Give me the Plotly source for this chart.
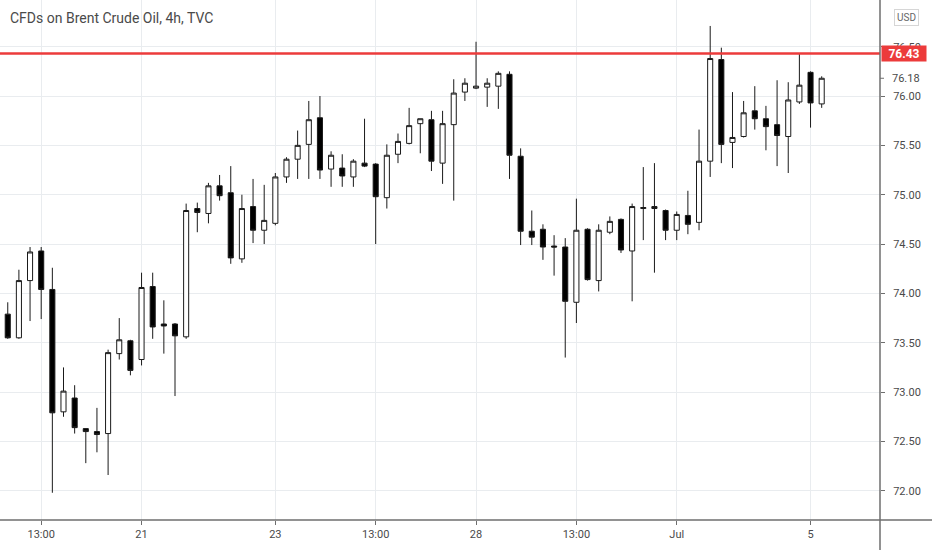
import plotly.graph_objects as go

# 4h bars, index order
bar_idx = list(range(74))
opens = [73.79, 73.55, 74.13, 74.43, 74.04, 72.80, 72.94, 72.63, 72.60, 72.58,
         73.39, 73.52, 73.33, 74.07, 73.69, 73.69, 73.56, 74.86, 74.81, 75.09,
         75.02, 74.35, 74.88, 74.64, 74.71, 75.18, 75.36, 75.51, 75.78, 75.26,
         75.27, 75.18, 75.32, 75.31, 74.97, 75.41, 75.52, 75.72, 75.76, 75.32,
         75.71, 76.04, 76.08, 76.09, 76.10, 76.22, 75.39, 74.63, 74.65, 74.48,
         74.47, 73.91, 74.65, 74.13, 74.62, 74.75, 74.43, 74.86, 74.88, 74.84,
         74.64, 74.79, 74.72, 75.34, 76.37, 75.53, 75.59, 75.85, 75.77, 75.71,
         75.59, 75.94, 76.24, 75.92]
highs = [73.91, 74.24, 74.47, 74.47, 74.26, 73.25, 73.07, 72.63, 72.84, 73.43,
         73.75, 73.53, 74.21, 74.21, 73.93, 73.70, 74.91, 74.92, 75.12, 75.20,
         75.29, 75.00, 75.16, 75.10, 75.22, 75.38, 75.65, 75.95, 76.00, 75.44,
         75.41, 75.36, 75.77, 75.32, 75.51, 75.62, 75.88, 75.77, 75.85, 75.85,
         76.17, 76.18, 76.55, 76.18, 76.25, 76.25, 75.47, 74.84, 74.70, 74.59,
         74.56, 74.96, 74.66, 74.70, 74.78, 74.76, 74.91, 75.28, 75.32, 74.85,
         74.83, 75.04, 75.66, 76.71, 76.49, 76.04, 75.95, 76.10, 75.90, 76.16,
         76.14, 76.43, 76.25, 76.20]
lows = [73.54, 73.54, 73.72, 73.74, 71.98, 72.75, 72.58, 72.28, 72.39, 72.16,
        73.33, 73.17, 73.27, 73.54, 73.39, 72.96, 73.54, 74.62, 74.71, 74.94,
        74.30, 74.31, 74.51, 74.50, 74.69, 75.12, 75.16, 75.16, 75.16, 75.08,
        75.08, 75.08, 75.28, 74.50, 74.86, 75.32, 75.51, 75.42, 75.24, 75.11,
        74.94, 75.95, 76.07, 75.89, 75.87, 75.16, 74.49, 74.49, 74.34, 74.18,
        73.35, 73.70, 74.13, 74.02, 74.60, 74.41, 73.92, 74.54, 74.21, 74.54,
        74.54, 74.60, 74.64, 75.18, 75.32, 75.27, 75.58, 75.66, 75.45, 75.29,
        75.22, 75.92, 75.68, 75.88]
closes = [73.55, 74.13, 74.42, 74.04, 72.79, 73.01, 72.64, 72.60, 72.57, 73.40,
          73.53, 73.22, 74.06, 73.66, 73.67, 73.57, 74.84, 74.82, 75.09, 74.99,
          74.36, 74.86, 74.64, 74.74, 75.18, 75.36, 75.50, 75.76, 75.25, 75.40,
          75.19, 75.34, 75.29, 74.98, 75.40, 75.54, 75.70, 75.77, 75.34, 75.72,
          76.03, 76.13, 76.10, 76.13, 76.23, 75.40, 74.63, 74.57, 74.47, 74.47,
          73.92, 74.64, 74.14, 74.64, 74.73, 74.44, 74.88, 74.87, 74.86, 74.64,
          74.80, 74.70, 75.34, 76.38, 75.51, 75.58, 75.83, 75.77, 75.69, 75.60,
          75.96, 76.11, 75.93, 76.18]

date_tick_idx = [3, 12, 24, 33, 42, 51, 60, 72]
date_tick_text = ["13:00", "21", "23", "13:00", "28", "13:00", "Jul", "5"]
price_ticks = [72.0, 72.5, 73.0, 73.5, 74.0, 74.5, 75.0, 75.5, 76.0, 76.5]

resistance = 76.43
last_price = closes[-1]

red = "#ec3b3b"
txt = "#4a4a4a"
axis_col = "#6e6e6e"

fig = go.Figure()
fig.add_trace(go.Candlestick(
    x=bar_idx, open=opens, high=highs, low=lows, close=closes,
    increasing=dict(line=dict(color="#1a1a1a", width=1), fillcolor="#ffffff"),
    decreasing=dict(line=dict(color="#1a1a1a", width=1), fillcolor="#000000"),
    whiskerwidth=0,
    showlegend=False,
))

# horizontal resistance level
fig.add_shape(type="line", xref="paper", x0=0, x1=1, yref="y",
              y0=resistance, y1=resistance, line=dict(color=red, width=2.5))

# axis separators (extend into margins like the tv layout)
fig.add_shape(type="line", xref="paper", yref="paper", x0=0, x1=1 + 52 / 880,
              y0=0, y1=0, line=dict(color=axis_col, width=1.5))
fig.add_shape(type="line", xref="paper", yref="paper", x0=1, x1=1,
              y0=-30 / 520, y1=1, line=dict(color=axis_col, width=1.5))
# small tick for the last price label
fig.add_shape(type="line", xref="paper", yref="y", x0=1, x1=1 + 4 / 880,
              y0=last_price, y1=last_price, line=dict(color=axis_col, width=1))

fig.add_annotation(text="CFDs on Brent Crude Oil, 4h, TVC", xref="paper", yref="paper",
                   x=8 / 880, y=1 - 18 / 520, xanchor="left", yanchor="middle",
                   showarrow=False, font=dict(size=14, color=txt))
fig.add_annotation(text="<b>%.2f</b>" % resistance, xref="paper", yref="y",
                   x=1, y=resistance, xanchor="left", yanchor="middle", xshift=1,
                   showarrow=False, bgcolor=red, width=42, height=13, borderpad=1,
                   font=dict(size=12, color="#ffffff"))
fig.add_annotation(text="%.2f" % last_price, xref="paper", yref="y",
                   x=1, y=last_price, xanchor="left", yanchor="middle", xshift=10,
                   showarrow=False, font=dict(size=11, color=txt))
fig.add_annotation(text="USD", xref="paper", yref="paper",
                   x=906 / 880, y=1 - 17.5 / 520, xanchor="center", yanchor="middle",
                   showarrow=False, bgcolor="#ffffff", bordercolor="#d6d6d6",
                   borderwidth=1, borderpad=2, font=dict(size=10, color="#666666"))

fig.update_layout(
    width=932, height=550,
    margin=dict(l=0, r=52, t=0, b=30),
    paper_bgcolor="#ffffff", plot_bgcolor="#ffffff",
    font=dict(family="Roboto, Liberation Sans, sans-serif", color=txt),
    boxgap=0.35,
    hovermode=False,
)
fig.update_xaxes(
    range=[-0.695, 78.23], rangeslider=dict(visible=False),
    tickvals=date_tick_idx, ticktext=date_tick_text,
    showgrid=True, gridcolor="#e9ecef", gridwidth=1, zeroline=False,
    ticks="outside", ticklen=4, tickcolor=axis_col,
    tickfont=dict(size=11, color=txt), showline=False,
)
fig.update_yaxes(
    side="right", range=[71.704, 76.973],
    tickvals=price_ticks, tickformat=".2f",
    showgrid=True, gridcolor="#e9ecef", gridwidth=1, zeroline=False,
    ticks="outside", ticklen=4, tickcolor=axis_col, ticklabelstandoff=6,
    tickfont=dict(size=11, color=txt), showline=False,
)

# page body has a default 8px margin; drop it so the chart fills the window
fig.write_html("out.html", config={"displayModeBar": False},
               post_script="document.body.style.margin='0';")
